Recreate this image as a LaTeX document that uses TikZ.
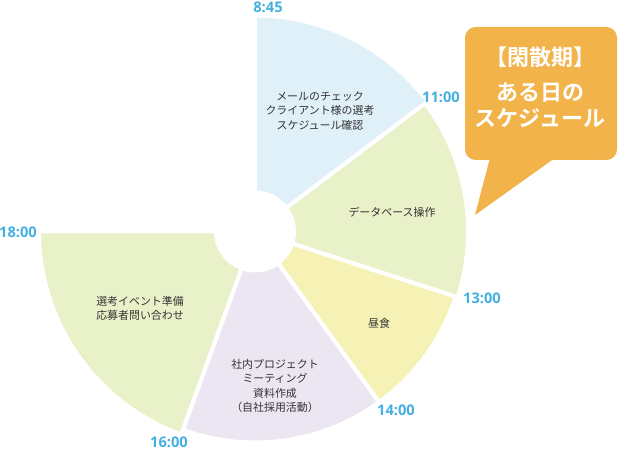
\documentclass[tikz,border=0pt]{standalone}
\usepackage{fontspec}
\setmainfont{Noto Sans CJK JP}[BoldFont={Noto Sans CJK JP Bold}]
\newfontfamily\timefont{Open Sans}[BoldFont={Open Sans Bold}]
\usepackage{tikz}

\definecolor{timeblue}{HTML}{45B0DF}
\definecolor{secblue}{HTML}{E0F0F9}
\definecolor{secgreen}{HTML}{E9F1C9}
\definecolor{secyellow}{HTML}{F6F2B5}
\definecolor{secpurple}{HTML}{ECE6F2}
\definecolor{bubble}{HTML}{F1B34A}
\definecolor{txtgray}{HTML}{333333}

\begin{document}
\begin{tikzpicture}[x=0.75pt,y=0.75pt,
    sector/.style={draw=white,line width=3pt,line join=miter},
    time/.style={text=timeblue,font=\timefont\bfseries\fontsize{11}{12}\selectfont,inner sep=0pt},
    task/.style={text=txtgray,align=center,font=\fontsize{8.2}{10.6}\selectfont,inner sep=0pt},
    bubtext/.style={text=white,align=center,font=\bfseries\fontsize{16.5}{19.5}\selectfont,inner sep=0pt}]

    \useasboundingbox (0,0) rectangle (620,449);

    % Sectors of the day, drawn round the centre
    \begin{scope}[shift={(255,217.5)}]
        \fill[secblue,sector]   (0,0) -- (90:216)  arc (90:37:216)   -- cycle;
        \fill[secgreen,sector]  (0,0) -- (37:213)  arc (37:-18:213)  -- cycle;
        \fill[secyellow,sector] (0,0) -- (-18:211) arc (-18:-54:211) -- cycle;
        \fill[secpurple,sector] (0,0) -- (-54:211) arc (-54:-110:211) -- cycle;
        \fill[secgreen,sector]  (0,0) -- (-110:216) arc (-110:-180:216) -- cycle;
        % hole in the middle
        \fill[white] (0,0) circle (41);
    \end{scope}

    % Tasks
    \node[task] (mail)   at (320,338) {メールのチェック\\クライアント様の選考\\スケジュール確認};
    \node[task] (db)     at (392,237) {データベース操作};
    \node[task] (lunch)  at (379,126) {昼食};
    \node[task] (meet)   at (275,63)  {社内プロジェクト\\ミーティング\\資料作成\\（自社採用活動）};
    \node[task] (event)  at (140,141) {選考イベント準備\\応募者問い合わせ};

    % Times
    \node[time] (t845)  at (268,442) {8:45};
    \node[time] (t1100) at (441,352) {11:00};
    \node[time] (t1300) at (482,151) {13:00};
    \node[time] (t1400) at (396,39)  {14:00};
    \node[time] (t1600) at (169,7)   {16:00};
    \node[time] (t1800) at (18,217)  {18:00};

    % Speech bubble
    \fill[bubble,rounded corners=8] (465,289) rectangle (617,422);
    \fill[bubble] (490,291) -- (475,234) -- (555,291) -- cycle;
    \node[bubtext] (head)  at (540,392) {【閑散期】};
    \node[bubtext] (title) at (540,344) {ある日の\\スケジュール};

\end{tikzpicture}
\end{document}
